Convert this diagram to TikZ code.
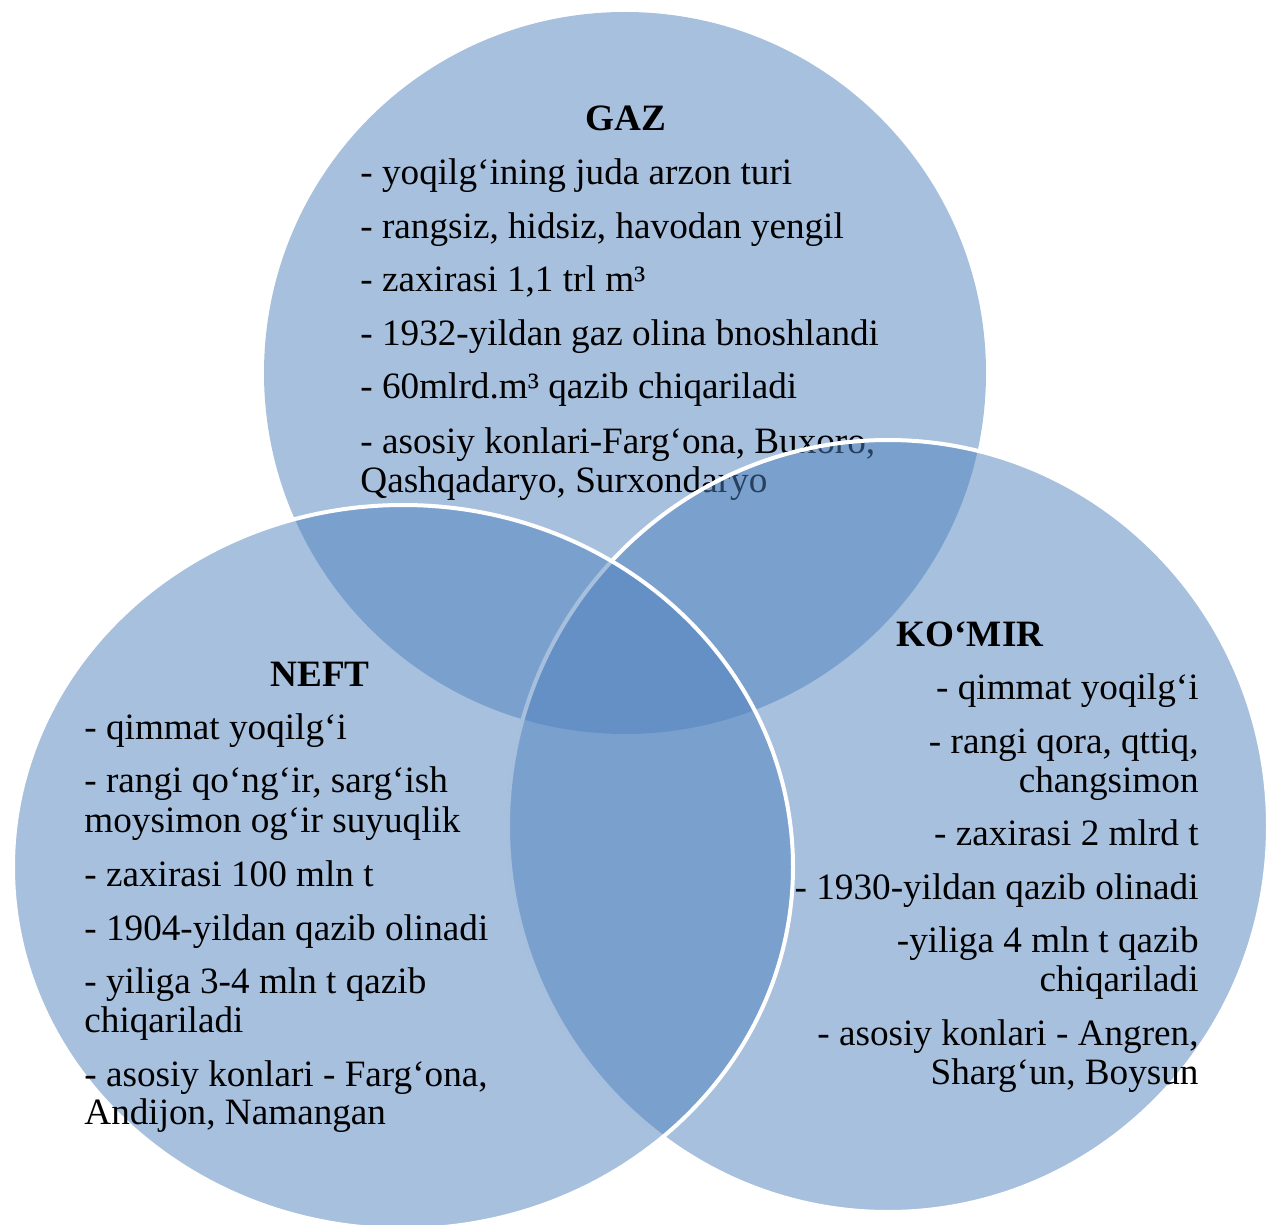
\documentclass[tikz,border=0pt]{standalone}
\usepackage{fontspec}
\setmainfont{Liberation Serif}
\usetikzlibrary{shapes.geometric}
\definecolor{vennblue}{HTML}{4F81BD}
\begin{document}
\begin{tikzpicture}[x=0.5pt,y=-0.5pt,
  venn/.style={ellipse, inner sep=0pt, outer sep=0pt, fill=vennblue, fill opacity=0.5, draw=white, line width=2pt},
  ln/.style={inner sep=0pt, font=\fontsize{18.6pt}{20pt}\selectfont},
  hd/.style={inner sep=0pt, font=\fontsize{18.6pt}{20pt}\selectfont\bfseries, anchor=base},
  lw/.style={ln, anchor=base west},
  le/.style={ln, anchor=base east}]
\useasboundingbox (0,0) rectangle (1275,1225);
\clip (0,0) rectangle (1275,1225);
% GAZ circle and text
\node[venn, draw=none, minimum width=361pt, minimum height=361pt] (gaz) at (625,373) {};
\node[hd] (gazh) at (626,131) {GAZ};
\node[lw] (g1) at (360,185) {- yoqilg‘ining juda arzon turi};
\node[lw] (g2) at (360,239) {- rangsiz, hidsiz, havodan yengil};
\node[lw] (g3) at (360,292) {- zaxirasi 1,1 trl m³};
\node[lw] (g4) at (360,346) {- 1932-yildan gaz olina bnoshlandi};
\node[lw] (g5) at (360,399) {- 60mlrd.m³ qazib chiqariladi};
\node[lw] (g6) at (360,453) {- asosiy konlari-Farg‘ona, Buxoro,};
\node[lw] (g7) at (360,492) {Qashqadaryo, Surxondaryo};
% KO'MIR and NEFT shapes
\node[venn, minimum width=380pt, minimum height=386pt] (komir) at (888,826) {};
\node[venn, minimum width=390pt, minimum height=362pt] (neft) at (403,867) {};
% NEFT text
\node[hd] (nefth) at (320,686) {NEFT};
\node[lw] (n1) at (84,739) {- qimmat yoqilg‘i};
\node[lw] (n2) at (84,792) {- rangi qo‘ng‘ir, sarg‘ish};
\node[lw] (n3) at (84,832) {moysimon og‘ir suyuqlik};
\node[lw] (n4) at (84,886) {- zaxirasi 100 mln t};
\node[lw] (n5) at (84,940) {- 1904-yildan qazib olinadi};
\node[lw] (n6) at (84,993) {- yiliga 3-4 mln t qazib};
\node[lw] (n7) at (84,1032) {chiqariladi};
\node[lw] (n8) at (84,1086) {- asosiy konlari - Farg‘ona,};
\node[lw] (n9) at (84,1124) {Andijon, Namangan};
% KO'MIR text
\node[hd] (komirh) at (970,646) {KO‘MIR};
\node[le] (k1) at (1199,699) {- qimmat yoqilg‘i};
\node[le] (k2) at (1199,753) {- rangi qora, qttiq,};
\node[le] (k3) at (1199,792) {changsimon};
\node[le] (k4) at (1199,845) {- zaxirasi 2 mlrd t};
\node[le] (k5) at (1199,899) {- 1930-yildan qazib olinadi};
\node[le] (k6) at (1199,952) {-yiliga 4 mln t qazib};
\node[le] (k7) at (1199,991) {chiqariladi};
\node[le] (k8) at (1199,1045) {- asosiy konlari - Angren,};
\node[le] (k9) at (1199,1084) {Sharg‘un, Boysun};
\end{tikzpicture}
\end{document}
